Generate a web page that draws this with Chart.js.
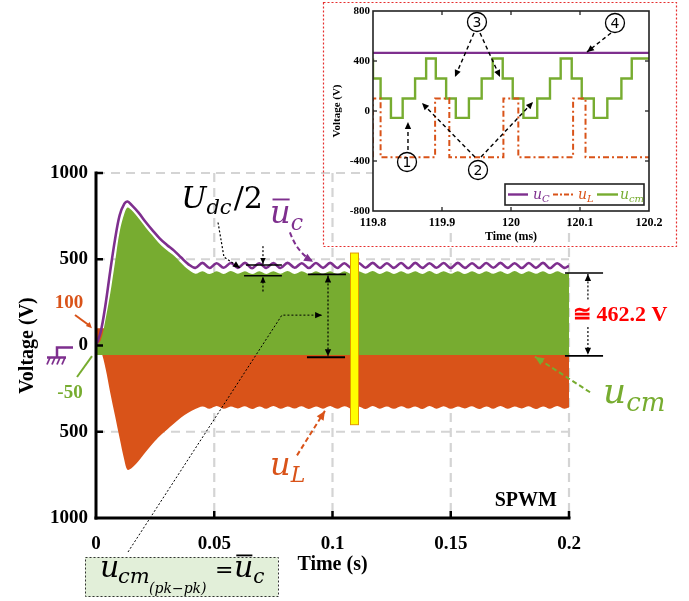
<!DOCTYPE html>
<html>
<head>
<meta charset="utf-8">
<script src="https://cdn.jsdelivr.net/npm/chart.js@4.4.0/dist/chart.umd.min.js"></script>
<style>
  html, body { margin: 0; padding: 0; background: #fff; }
  #wrap { position: relative; width: 689px; height: 601px; overflow: hidden; }
  #main { position: absolute; left: 0; top: 0; width: 689px; height: 601px; }
  #inset { position: absolute; left: 322px; top: 1px; width: 356px; height: 247px; }
</style>
</head>
<body>
<div id="wrap">
  <canvas id="main" width="689" height="601"></canvas>
  <canvas id="inset" width="356" height="247"></canvas>
</div>
<script>
// ---- main plot data (time in s, voltage in V) ----
const timeS = [0, 0.002, 0.004, 0.006, 0.008, 0.010, 0.012, 0.0133, 0.015, 0.018, 0.021, 0.024, 0.027, 0.030, 0.033, 0.036, 0.039,
  0.042, 0.045, 0.048, 0.051, 0.054, 0.057, 0.060, 0.063, 0.066, 0.069, 0.072, 0.075, 0.078, 0.081, 0.084, 0.087, 0.090, 0.093, 0.096, 0.099,
  0.102, 0.105, 0.108, 0.111, 0.114, 0.117, 0.120, 0.123, 0.126, 0.129, 0.132, 0.135, 0.138, 0.141, 0.144, 0.147, 0.150, 0.153, 0.156, 0.159,
  0.162, 0.165, 0.168, 0.171, 0.174, 0.177, 0.180, 0.183, 0.186, 0.189, 0.192, 0.195, 0.198, 0.200];

// capacitor voltage u_C (purple line)
const ucMain = [0, 80, 235, 430, 611, 755, 822, 835, 815, 770, 716, 666, 620, 583, 550, 510, 472,
  450, 479, 449, 477, 451, 478, 450, 479, 448, 477, 450, 478, 449, 479, 451, 477, 449, 478, 450, 479,
  449, 477, 450, 478, 451, 479, 449, 477, 450, 478, 448, 479, 450, 477, 451, 478, 449, 479, 450, 477,
  449, 478, 451, 479, 450, 477, 449, 478, 450, 479, 448, 477, 450, 462];

// common-mode voltage u_cm envelope (green band)
const ucmTop = [0, 30, 150, 300, 480, 660, 765, 800, 785, 737, 684, 636, 588, 552, 520, 478, 440,
  416, 431, 414, 430, 415, 432, 416, 430, 414, 431, 415, 430, 416, 432, 414, 430, 415, 431, 416, 430,
  414, 431, 415, 430, 416, 432, 414, 430, 415, 431, 416, 430, 414, 432, 415, 430, 416, 431, 414, 430,
  415, 431, 416, 430, 414, 432, 415, 430, 416, 431, 414, 430, 415, 422];
const ucmBot = [-55, -55, -55, -55, -55, -55, -55, -55, -55, -55, -55, -55, -55, -55, -55, -55, -55,
  -55, -55, -55, -55, -55, -55, -55, -55, -55, -55, -55, -55, -55, -55, -55, -55, -55, -55, -55, -55,
  -55, -55, -55, -55, -55, -55, -55, -55, -55, -55, -55, -55, -55, -55, -55, -55, -55, -55, -55, -55,
  -55, -55, -55, -55, -55, -55, -55, -55, -55, -55, -55, -55, -55, -55];

// inductor voltage u_L envelope (orange band)
const uLTop = [100, 100, 100, 100, 100, 100, 100, 100, 100, 100, 100, 100, 100, 100, 100, 100, 100,
  100, 100, 100, 100, 100, 100, 100, 100, 100, 100, 100, 100, 100, 100, 100, 100, 100, 100, 100, 100,
  100, 100, 100, 100, 100, 100, 100, 100, 100, 100, 100, 100, 100, 100, 100, 100, 100, 100, 100, 100,
  100, 100, 100, 100, 100, 100, 100, 100, 100, 100, 100, 100, 100, 100];
const uLBot = [0, -30, -130, -272, -405, -538, -665, -720, -712, -670, -618, -568, -524, -488, -452, -418, -390,
  -368, -353, -366, -351, -367, -354, -365, -352, -368, -353, -366, -351, -367, -353, -365, -352, -368, -354, -366, -351,
  -367, -352, -365, -353, -368, -351, -366, -354, -367, -352, -365, -353, -368, -351, -366, -352, -367, -354, -365, -352,
  -368, -353, -366, -351, -367, -354, -365, -352, -368, -353, -366, -351, -367, -360];

const xTicks = [0, 0.05, 0.1, 0.15, 0.2];
const xTickLabels = ['0', '0.05', '0.1', '0.15', '0.2'];
const yTicks = [-1000, -500, 0, 500, 1000];
const yTickLabels = ['1000', '500', '0', '500', '1000'];

// ---- inset data (time in ms) ----
const insetUcT = [119.8, 120.2];
const insetUcV = [465, 465];
const insetUlT = [119.8, 119.811, 119.890, 119.9106, 119.989, 120.0106, 120.090, 120.108, 120.189, 120.2];
const insetUlV = [-370, 100, -370, 100, -370, 100, -370, 100, -370, -370];
const insetUcmT = [119.8, 119.811, 119.826, 119.843, 119.861, 119.877, 119.891, 119.906, 119.920, 119.939, 119.9575, 119.9735, 119.988,
  120.0025, 120.018, 120.038, 120.0565, 120.072, 120.088, 120.1025, 120.120, 120.1396, 120.160, 120.175, 120.189, 120.2];
const insetUcmV = [420, 260, 100, -55, 100, 260, 420, 260, 100, -55, 100, 260, 420,
  260, 100, -55, 100, 260, 420, 260, 100, -55, 100, 260, 420, 420];

const insetXTicks = [119.8, 119.9, 120, 120.1, 120.2];
const insetXTickLabels = ['119.8', '119.9', '120', '120.1', '120.2'];
const insetYTicks = [-800, -400, 0, 400, 800];
const insetYTickLabels = ['-800', '-400', '0', '400', '800'];

const SERIF = '"Liberation Serif", "Times New Roman", serif';
const MATH = '"DejaVu Serif", serif';
const PURPLE = '#7e2f8e', ORANGE = '#d95319', GREEN = '#77ac30';

Chart.defaults.font.family = SERIF;
Chart.defaults.color = '#000';

const pts = (xs, ys) => xs.map((t, i) => ({ x: t, y: ys[i] }));

function line(ctx, x0, y0, x1, y1) {
  ctx.beginPath(); ctx.moveTo(x0, y0); ctx.lineTo(x1, y1); ctx.stroke();
}

function arrowHead(ctx, x0, y0, x1, y1, size, color) {
  const a = Math.atan2(y1 - y0, x1 - x0);
  const w = size * 0.45;
  ctx.save();
  ctx.setLineDash([]);
  ctx.fillStyle = color;
  ctx.beginPath();
  ctx.moveTo(x1, y1);
  ctx.lineTo(x1 - size * Math.cos(a) + w * Math.sin(a), y1 - size * Math.sin(a) - w * Math.cos(a));
  ctx.lineTo(x1 - size * Math.cos(a) - w * Math.sin(a), y1 - size * Math.sin(a) + w * Math.cos(a));
  ctx.closePath();
  ctx.fill();
  ctx.restore();
}

function polyArrow(ctx, p, o) {
  ctx.save();
  ctx.strokeStyle = o.color; ctx.lineWidth = o.width; ctx.setLineDash(o.dash || []);
  ctx.beginPath(); ctx.moveTo(p[0][0], p[0][1]);
  for (let i = 1; i < p.length; i++) ctx.lineTo(p[i][0], p[i][1]);
  ctx.stroke();
  ctx.restore();
  const n = p.length;
  if (o.end !== false) arrowHead(ctx, p[n - 2][0], p[n - 2][1], p[n - 1][0], p[n - 1][1], o.head, o.color);
  if (o.start) arrowHead(ctx, p[1][0], p[1][1], p[0][0], p[0][1], o.head, o.color);
}

function txt(ctx, s, x, y, font, color, align) {
  ctx.save();
  ctx.font = font; ctx.fillStyle = color;
  ctx.textAlign = align || 'left'; ctx.textBaseline = 'alphabetic';
  ctx.fillText(s, x, y);
  ctx.restore();
}

// italic math run: parts = [{s, size, dy, upright, bar, gap}]
function mathRun(ctx, parts, x, y, color) {
  ctx.save();
  ctx.fillStyle = color; ctx.strokeStyle = color;
  ctx.textAlign = 'left'; ctx.textBaseline = 'alphabetic';
  let cx = x;
  parts.forEach(p => {
    ctx.font = (p.upright ? '' : 'italic ') + p.size + 'px ' + MATH;
    const w = ctx.measureText(p.s).width;
    ctx.fillText(p.s, cx, y + (p.dy || 0));
    if (p.bar) {
      ctx.lineWidth = p.size * 0.06;
      line(ctx, cx + w * 0.12, y - p.size * 0.72, cx + w * 0.95, y - p.size * 0.72);
    }
    cx += w + (p.gap || 0);
  });
  ctx.restore();
  return cx;
}

const mainDecor = {
  id: 'mainDecor',
  beforeDatasetsDraw(chart) {
    const { ctx, chartArea: a, scales: { x, y } } = chart;
    ctx.save();
    ctx.strokeStyle = '#d4d4d4'; ctx.lineWidth = 2.2; ctx.setLineDash([9, 6]);
    xTicks.forEach(t => { if (t !== 0) { const px = x.getPixelForValue(t); line(ctx, px, a.top, px, a.bottom); } });
    yTicks.forEach(v => { if (v !== 0 && v !== -1000) { const py = y.getPixelForValue(v); line(ctx, a.left, py, a.right, py); } });
    ctx.restore();
  },
  afterDatasetsDraw(chart) {
    const { ctx, chartArea: a, scales: { x, y } } = chart;
    const X = t => x.getPixelForValue(t), Y = v => y.getPixelForValue(v);

    // yellow marker bar
    ctx.save();
    const bx = X(0.1093);
    ctx.fillStyle = '#ffff00';
    ctx.fillRect(bx - 4, Y(536), 8, Y(-459) - Y(536));
    ctx.strokeStyle = '#e29a00'; ctx.lineWidth = 1;
    ctx.strokeRect(bx - 4, Y(536), 8, Y(-459) - Y(536));
    ctx.restore();

    // axes and inner ticks
    ctx.save();
    ctx.strokeStyle = '#000'; ctx.lineWidth = 3; ctx.lineCap = 'square';
    line(ctx, a.left, a.top, a.left, a.bottom);
    line(ctx, a.left, a.bottom, a.right, a.bottom);
    ctx.lineWidth = 2.5; ctx.lineCap = 'butt';
    yTicks.forEach(v => { if (v !== -1000) line(ctx, a.left, Y(v), a.left + 7, Y(v)); });
    xTicks.forEach(t => { if (t !== 0) line(ctx, X(t), a.bottom, X(t), a.bottom - 7); });
    ctx.restore();

    // U_dc/2 label and marker
    mathRun(ctx, [{ s: 'U', size: 30 }, { s: 'dc', size: 21, dy: 6, gap: 2 }, { s: '/2', size: 30, upright: true }], X(0.0360), Y(799), '#000');
    polyArrow(ctx, [[X(0.0516), Y(713)], [X(0.0541), Y(513)], [X(0.0609), Y(450)]], { color: '#000', width: 1.2, dash: [2, 2], head: 7 });
    ctx.save();
    ctx.strokeStyle = '#000'; ctx.lineWidth = 1.6;
    line(ctx, X(0.0634), Y(467), X(0.0786), Y(467));
    line(ctx, X(0.0626), Y(404), X(0.0786), Y(404));
    ctx.restore();
    polyArrow(ctx, [[X(0.0706), Y(576)], [X(0.0706), Y(472)]], { color: '#000', width: 1.2, dash: [2, 2], head: 6 });
    polyArrow(ctx, [[X(0.0706), Y(313)], [X(0.0706), Y(399)]], { color: '#000', width: 1.2, dash: [2, 2], head: 6 });

    // peak-to-peak marker in the middle
    ctx.save();
    ctx.strokeStyle = '#000'; ctx.lineWidth = 1.8;
    line(ctx, X(0.0896), Y(412), X(0.1057), Y(412));
    line(ctx, X(0.0892), Y(-68), X(0.1053), Y(-68));
    ctx.restore();
    polyArrow(ctx, [[X(0.0981), Y(406)], [X(0.0981), Y(-62)]], { color: '#000', width: 1.2, dash: [2, 2], head: 7, start: true });
    polyArrow(ctx, [[128, 552], [X(0.0786), Y(176)], [X(0.0956), Y(176)]], { color: '#000', width: 1, dash: [2, 2], head: 7 });

    // right-hand marker with value
    ctx.save();
    ctx.strokeStyle = '#000'; ctx.lineWidth = 1.6;
    line(ctx, X(0.1983), Y(420), X(0.2144), Y(420));
    line(ctx, X(0.1983), Y(-60), X(0.2144), Y(-60));
    ctx.restore();
    polyArrow(ctx, [[X(0.2080), Y(267)], [X(0.2080), Y(414)]], { color: '#000', width: 1.2, dash: [2, 2], head: 7 });
    polyArrow(ctx, [[X(0.2080), Y(107)], [X(0.2080), Y(-54)]], { color: '#000', width: 1.2, dash: [2, 2], head: 7 });
    txt(ctx, '\u2245 462.2 V', X(0.2017), Y(141), 'bold 22px ' + SERIF + ', "DejaVu Serif"', '#ff0000');

    // u_c bar label
    mathRun(ctx, [{ s: 'u', size: 32, bar: true }, { s: 'c', size: 22, dy: 7 }], X(0.0736), Y(713), PURPLE);
    ctx.save();
    ctx.strokeStyle = PURPLE; ctx.lineWidth = 2; ctx.setLineDash([5, 3]);
    ctx.beginPath(); ctx.moveTo(X(0.0820), Y(656)); ctx.quadraticCurveTo(X(0.0850), Y(541), X(0.0912), Y(492)); ctx.stroke();
    ctx.restore();
    arrowHead(ctx, X(0.0880), Y(515), X(0.0918), Y(485), 9, PURPLE);

    // u_cm label
    mathRun(ctx, [{ s: 'u', size: 36 }, { s: 'cm', size: 26, dy: 8 }], X(0.2144), Y(-333), GREEN);
    polyArrow(ctx, [[X(0.2089), Y(-271)], [X(0.1856), Y(-65)]], { color: GREEN, width: 2, dash: [5, 3], head: 9 });

    // u_L label
    mathRun(ctx, [{ s: 'u', size: 32 }, { s: 'L', size: 22, dy: 7 }], X(0.0736), Y(-751), ORANGE);
    polyArrow(ctx, [[X(0.0850), Y(-637)], [X(0.0968), Y(-379)]], { color: ORANGE, width: 2, dash: [5, 3], head: 9 });

    txt(ctx, 'SPWM', X(0.1949), Y(-928), 'bold 20px ' + SERIF, '#000', 'right');

    // side labels 100 / -50 and ground symbol
    txt(ctx, '100', 69, 308, 'bold 19px ' + SERIF, ORANGE, 'center');
    ctx.save(); ctx.strokeStyle = ORANGE; ctx.lineWidth = 2; line(ctx, 75, 315, 89, Y(100) - 3); ctx.restore();
    arrowHead(ctx, 84, Y(100) - 8, 92, Y(100), 6, ORANGE);
    txt(ctx, '-50', 70, 398, 'bold 19px ' + SERIF, GREEN, 'center');
    ctx.save(); ctx.strokeStyle = GREEN; ctx.lineWidth = 2; line(ctx, 77, 377, 92, Y(-62)); ctx.restore();

    ctx.save();
    ctx.strokeStyle = PURPLE; ctx.lineWidth = 2.5;
    ctx.beginPath(); ctx.moveTo(73, Y(0) + 2); ctx.lineTo(57, Y(0) + 2); ctx.lineTo(57, Y(0) + 12); ctx.stroke();
    line(ctx, 47, Y(0) + 12, 66, Y(0) + 12);
    ctx.lineWidth = 1.8;
    for (let i = 0; i < 4; i++) line(ctx, 50 + 5 * i, Y(0) + 12, 47 + 5 * i, Y(0) + 19);
    ctx.restore();

    // formula box
    ctx.save();
    ctx.fillStyle = '#e2efd9'; ctx.fillRect(85, 557, 193, 40);
    ctx.strokeStyle = '#333'; ctx.lineWidth = 1; ctx.setLineDash([2, 2]);
    ctx.strokeRect(85.5, 557.5, 193, 39);
    ctx.restore();
    mathRun(ctx, [{ s: 'u', size: 30 }], 100, 577, '#000');
    mathRun(ctx, [{ s: 'cm', size: 21 }], 118, 583, '#000');
    mathRun(ctx, [{ s: '(pk\u2212pk)', size: 14 }], 149, 593, '#000');
    mathRun(ctx, [{ s: '=', size: 22, upright: true }], 215, 577, '#000');
    mathRun(ctx, [{ s: 'u', size: 30, bar: true }, { s: 'c', size: 20, dy: 6 }], 234, 577, '#000');
  }
};

new Chart(document.getElementById('main'), {
  type: 'line',
  data: {
    datasets: [
      { data: pts(timeS, ucMain), borderColor: PURPLE, borderWidth: 2.6, fill: false, order: 0 },
      { data: pts(timeS, ucmTop), borderColor: 'rgba(0,0,0,0)', borderWidth: 0, backgroundColor: GREEN, fill: '+1', order: 1 },
      { data: pts(timeS, ucmBot), borderColor: 'rgba(0,0,0,0)', borderWidth: 0, fill: false, order: 2 },
      { data: pts(timeS, uLTop), borderColor: 'rgba(0,0,0,0)', borderWidth: 0, backgroundColor: ORANGE, fill: '+1', order: 3 },
      { data: pts(timeS, uLBot), borderColor: 'rgba(0,0,0,0)', borderWidth: 0, fill: false, order: 4 }
    ]
  },
  options: {
    responsive: false,
    animation: false,
    devicePixelRatio: 1,
    elements: { point: { radius: 0 }, line: { tension: 0.35, borderJoinStyle: 'round' } },
    layout: { padding: { left: 0, right: 120, top: 173, bottom: 0 } },
    plugins: { legend: { display: false }, tooltip: { enabled: false } },
    scales: {
      x: {
        type: 'linear', min: 0, max: 0.2,
        grid: { display: false, drawTicks: false }, border: { display: false },
        afterBuildTicks: s => { s.ticks = xTicks.map(v => ({ value: v })); },
        ticks: { font: { size: 19, weight: 'bold' }, color: '#000', padding: 15, maxRotation: 0, autoSkip: false,
          callback: (v, i) => xTickLabels[i] },
        title: { display: true, text: 'Time (s)', font: { size: 20, weight: 'bold' }, color: '#000', padding: { top: 0, bottom: 24 } },
        afterFit: s => { s.height = 83; }
      },
      y: {
        type: 'linear', min: -1000, max: 1000,
        grid: { display: false, drawTicks: false }, border: { display: false },
        afterBuildTicks: s => { s.ticks = yTicks.map(v => ({ value: v })); },
        ticks: { font: { size: 19, weight: 'bold' }, color: '#000', padding: 8,
          callback: (v, i) => yTickLabels[i] },
        title: { display: true, text: 'Voltage (V)', font: { size: 20, weight: 'bold' }, color: '#000', padding: { top: 16, bottom: 0 } },
        afterFit: s => { s.width = 96; }
      }
    }
  },
  plugins: [mainDecor]
});

function circled(ctx, n, cx, cy) {
  ctx.save();
  ctx.strokeStyle = '#000'; ctx.lineWidth = 1.3;
  ctx.beginPath(); ctx.arc(cx, cy, 9.5, 0, Math.PI * 2); ctx.stroke();
  ctx.fillStyle = '#000'; ctx.font = '14px "DejaVu Sans"'; ctx.textAlign = 'center'; ctx.textBaseline = 'middle';
  ctx.fillText(String(n), cx, cy + 1);
  ctx.restore();
}

const insetDecor = {
  id: 'insetDecor',
  beforeDraw(chart) {
    const { ctx, chartArea: a } = chart;
    ctx.save();
    ctx.fillStyle = '#fff';
    ctx.fillRect(a.left, a.top, a.right - a.left, a.bottom - a.top);
    ctx.strokeStyle = '#e62e2e'; ctx.lineWidth = 1.2; ctx.setLineDash([2, 2]);
    ctx.strokeRect(1.5, 1.5, 353, 244);
    ctx.restore();
  },
  afterDatasetsDraw(chart) {
    const { ctx, chartArea: a, scales: { x, y } } = chart;
    const X = t => x.getPixelForValue(t), Y = v => y.getPixelForValue(v);
    ctx.save();
    ctx.strokeStyle = '#222'; ctx.lineWidth = 1.6;
    ctx.strokeRect(a.left, a.top, a.right - a.left, a.bottom - a.top);
    ctx.lineWidth = 1.3;
    insetYTicks.forEach(v => {
      if (v === -800 || v === 800) return;
      line(ctx, a.left, Y(v), a.left + 4, Y(v));
      line(ctx, a.right, Y(v), a.right - 4, Y(v));
    });
    insetXTicks.forEach(t => {
      if (t === 119.8 || t === 120.2) return;
      line(ctx, X(t), a.bottom, X(t), a.bottom - 4);
      line(ctx, X(t), a.top, X(t), a.top + 4);
    });
    ctx.restore();

    // legend
    const L = a.right - 144, T = a.bottom - 27;
    ctx.save();
    ctx.fillStyle = '#fff'; ctx.fillRect(L, T, 139, 21);
    ctx.strokeStyle = '#222'; ctx.lineWidth = 1.6; ctx.strokeRect(L, T, 139, 21);
    const ly = T + 10.5;
    ctx.lineWidth = 2.4;
    ctx.strokeStyle = PURPLE; line(ctx, L + 3, ly, L + 23, ly);
    ctx.strokeStyle = ORANGE; ctx.lineWidth = 2; ctx.setLineDash([5, 2, 2, 2]); line(ctx, L + 48, ly, L + 70, ly);
    ctx.setLineDash([]); ctx.strokeStyle = GREEN; ctx.lineWidth = 2.4; line(ctx, L + 92, ly, L + 113, ly);
    ctx.restore();
    mathRun(ctx, [{ s: 'u', size: 14 }, { s: 'C', size: 10, dy: 3 }], L + 28, ly + 4, PURPLE);
    mathRun(ctx, [{ s: 'u', size: 14 }, { s: 'L', size: 10, dy: 3 }], L + 73, ly + 4, ORANGE);
    mathRun(ctx, [{ s: 'u', size: 14 }, { s: 'cm', size: 10, dy: 3 }], L + 115, ly + 4, GREEN);

    // numbered callouts
    const dash = { color: '#000', width: 1.4, dash: [4, 3], head: 7 };
    circled(ctx, 3, X(119.9507), Y(712));
    circled(ctx, 4, X(120.1507), Y(704));
    circled(ctx, 1, X(119.8493), Y(-408));
    circled(ctx, 2, X(119.9522), Y(-472));
    polyArrow(ctx, [[X(119.9464), Y(624)], [X(119.9188), Y(272)]], dash);
    polyArrow(ctx, [[X(119.9551), Y(624)], [X(119.9841), Y(272)]], dash);
    polyArrow(ctx, [[X(120.1449), Y(624)], [X(120.1101), Y(472)]], dash);
    polyArrow(ctx, [[X(119.8507), Y(-312)], [X(119.8507), Y(-88)]], dash);
    polyArrow(ctx, [[X(119.9478), Y(-368)], [X(119.871), Y(64)]], dash);
    polyArrow(ctx, [[X(119.9565), Y(-368)], [X(120.0319), Y(72)]], dash);
  }
};

new Chart(document.getElementById('inset'), {
  type: 'line',
  data: {
    datasets: [
      { data: pts(insetUcT, insetUcV), borderColor: PURPLE, borderWidth: 2.4, fill: false },
      { data: pts(insetUlT, insetUlV), borderColor: ORANGE, borderWidth: 2, borderDash: [6, 3, 2, 3], stepped: 'after', fill: false },
      { data: pts(insetUcmT, insetUcmV), borderColor: GREEN, borderWidth: 2.4, stepped: 'after', fill: false }
    ]
  },
  options: {
    responsive: false,
    animation: false,
    devicePixelRatio: 1,
    elements: { point: { radius: 0 }, line: { tension: 0 } },
    layout: { padding: { left: 0, right: 29, top: 10, bottom: 0 } },
    plugins: { legend: { display: false }, tooltip: { enabled: false } },
    scales: {
      x: {
        type: 'linear', min: 119.8, max: 120.2,
        grid: { display: false, drawTicks: false }, border: { display: false },
        afterBuildTicks: s => { s.ticks = insetXTicks.map(v => ({ value: v })); },
        ticks: { font: { size: 12, weight: 'bold' }, color: '#000', padding: 5, maxRotation: 0, autoSkip: false,
          callback: (v, i) => insetXTickLabels[i] },
        title: { display: true, text: 'Time (ms)', font: { size: 12, weight: 'bold' }, color: '#000', padding: { top: 0, bottom: 4 } },
        afterFit: s => { s.height = 37; }
      },
      y: {
        type: 'linear', min: -800, max: 800,
        grid: { display: false, drawTicks: false }, border: { display: false },
        afterBuildTicks: s => { s.ticks = insetYTicks.map(v => ({ value: v })); },
        ticks: { font: { size: 11, weight: 'bold' }, color: '#000', padding: 3,
          callback: (v, i) => insetYTickLabels[i] },
        title: { display: true, text: 'Voltage (V)', font: { size: 11, weight: 'bold' }, color: '#000', padding: { top: 9, bottom: 0 } },
        afterFit: s => { s.width = 51; }
      }
    }
  },
  plugins: [insetDecor]
});
</script>
</body>
</html>
